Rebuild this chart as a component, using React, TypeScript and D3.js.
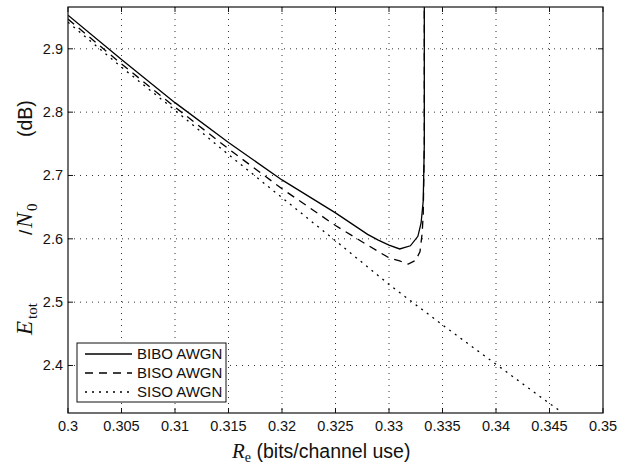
import React from "react";
import * as d3 from "d3";

const xTickValues = [0.3, 0.305, 0.31, 0.315, 0.32, 0.325, 0.33, 0.335, 0.34, 0.345, 0.35];
const xTickLabels = ["0.3", "0.305", "0.31", "0.315", "0.32", "0.325", "0.33", "0.335", "0.34", "0.345", "0.35"];
const yTickValues = [2.4, 2.5, 2.6, 2.7, 2.8, 2.9];
const yTickLabels = ["2.4", "2.5", "2.6", "2.7", "2.8", "2.9"];

const biboRate = [0.3, 0.305, 0.31, 0.315, 0.32, 0.325, 0.328, 0.329, 0.33, 0.331, 0.332, 0.3327, 0.333, 0.3332, 0.3333, 0.3333];
const biboEtot = [2.953, 2.883, 2.815, 2.752, 2.693, 2.641, 2.607, 2.598, 2.590, 2.584, 2.589, 2.604, 2.625, 2.66, 2.75, 2.98];

const bisoRate = [0.3, 0.305, 0.31, 0.315, 0.32, 0.325, 0.328, 0.33, 0.331, 0.3318, 0.3325, 0.3329, 0.3331, 0.3332, 0.3333, 0.3333];
const bisoEtot = [2.947, 2.876, 2.808, 2.742, 2.679, 2.621, 2.590, 2.570, 2.565, 2.560, 2.566, 2.580, 2.609, 2.64, 2.75, 2.98];

const sisoRate = [0.3, 0.305, 0.31, 0.315, 0.32, 0.325, 0.33, 0.335, 0.34, 0.345, 0.3461];
const sisoEtot = [2.942, 2.871, 2.803, 2.733, 2.665, 2.597, 2.528, 2.464, 2.402, 2.340, 2.327];

const legendLabels = ["BIBO AWGN", "BISO AWGN", "SISO AWGN"];
const legendDash = ["none", "8,6", "2,5"];

export default function App() {
  const W = 634, H = 470;
  const L = 68, R = 603, T = 7, B = 413;
  const x = d3.scaleLinear().domain([0.3, 0.35]).range([L, R]);
  const y = d3.scaleLinear().domain([2.325, 2.966]).range([B, T]);
  const line = d3.line<[number, number]>().x(d => x(d[0])).y(d => y(d[1]));
  const series = [
    { r: biboRate, e: biboEtot, dash: legendDash[0] },
    { r: bisoRate, e: bisoEtot, dash: legendDash[1] },
    { r: sisoRate, e: sisoEtot, dash: legendDash[2] },
  ];
  const sans = "'Liberation Sans', Arial, sans-serif";
  const serif = "'Liberation Serif', 'Times New Roman', serif";
  const tick = 5;
  return (
    <svg width={W} height={H} style={{ position: "absolute", left: 0, top: 0, background: "#fff" }}>
      <defs>
        <clipPath id="plot"><rect x={L} y={T} width={R - L} height={B - T} /></clipPath>
      </defs>
      <rect x={0} y={0} width={W} height={H} fill="#fff" />
      {xTickValues.slice(1, -1).map((v, i) => (
        <line key={"gx" + i} x1={x(v)} x2={x(v)} y1={T} y2={B} stroke="#333" strokeWidth={1} strokeDasharray="1,5" />
      ))}
      {yTickValues.map((v, i) => (
        <line key={"gy" + i} x1={L} x2={R} y1={y(v)} y2={y(v)} stroke="#333" strokeWidth={1} strokeDasharray="1,5" />
      ))}
      {xTickValues.map((v, i) => (
        <g key={"tx" + i}>
          <line x1={x(v)} x2={x(v)} y1={B} y2={B - tick} stroke="#111" />
          <line x1={x(v)} x2={x(v)} y1={T} y2={T + tick} stroke="#111" />
          <text x={x(v)} y={431} textAnchor="middle" fontFamily={sans} fontSize={14.5} fill="#111">{xTickLabels[i]}</text>
        </g>
      ))}
      {yTickValues.map((v, i) => (
        <g key={"ty" + i}>
          <line x1={L} x2={L + tick} y1={y(v)} y2={y(v)} stroke="#111" />
          <line x1={R} x2={R - tick} y1={y(v)} y2={y(v)} stroke="#111" />
          <text x={63} y={y(v) + 5} textAnchor="end" fontFamily={sans} fontSize={14.5} fill="#111">{yTickLabels[i]}</text>
        </g>
      ))}
      <g clipPath="url(#plot)">
        {series.map((s, i) => (
          <path key={"s" + i} d={line(s.r.map((r, j) => [r, s.e[j]]) as [number, number][]) || ""} fill="none" stroke="#000" strokeWidth={1.3} strokeDasharray={s.dash} />
        ))}
      </g>
      <rect x={L} y={T} width={R - L} height={B - T} fill="none" stroke="#111" strokeWidth={1.2} />
      <rect x={77} y={343} width={149} height={59} fill="#fff" stroke="#111" strokeWidth={1} />
      {legendLabels.map((lab, i) => (
        <g key={"lg" + i}>
          <line x1={85} x2={132} y1={354 + i * 19} y2={354 + i * 19} stroke="#000" strokeWidth={1.3} strokeDasharray={legendDash[i]} />
          <text x={137} y={354 + i * 19 + 5} fontFamily={sans} fontSize={15} fill="#111">{lab}</text>
        </g>
      ))}
      <text x={232} y={458} fontFamily={sans} fontSize={19.5} fill="#111">
        <tspan fontFamily={serif} fontStyle="italic" fontSize={21}>R</tspan>
        <tspan fontFamily={serif} fontSize={14} dy={4}>e</tspan>
        <tspan dy={-4}> (bits/channel use)</tspan>
      </text>
      <g transform="translate(32,335) rotate(-90)">
        <text x={0} y={0} fontFamily={serif} fontStyle="italic" fontSize={23} fill="#111">E</text>
        <text x={16} y={5} fontFamily={serif} fontSize={15} fill="#111">tot</text>
        <text x={100} y={0} fontFamily={sans} fontSize={19} fill="#111">/</text>
        <text x={107} y={0} fontFamily={serif} fontStyle="italic" fontSize={23} fill="#111">N</text>
        <text x={124} y={5} fontFamily={serif} fontSize={15} fill="#111">0</text>
        <text x={198} y={0} fontFamily={sans} fontSize={19.5} fill="#111">(dB)</text>
      </g>
    </svg>
  );
}
